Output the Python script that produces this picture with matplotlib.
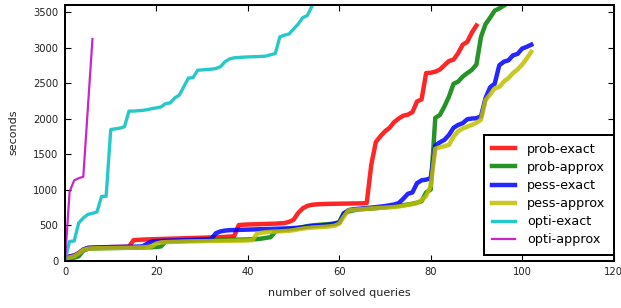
import matplotlib
matplotlib.use("Agg")
import matplotlib.pyplot as plt

# cumulative solve time per number of solved queries
prob_exact = [30, 60, 70, 105, 155, 178, 182, 184, 186, 188, 190, 191, 192, 194, 196,
              288, 292, 295, 298, 300, 302, 304, 306, 308, 310, 312, 314, 316, 318, 320,
              322, 324, 326, 328, 330, 334, 338, 342, 500, 505, 508, 510, 512, 514, 516,
              518, 520, 524, 528, 545, 575, 670, 735, 770, 785, 792, 795, 797, 799, 800,
              801, 802, 803, 804, 805, 806, 810, 1350, 1670, 1750, 1820, 1870, 1950, 2000,
              2040, 2055, 2090, 2240, 2270, 2640, 2645, 2660, 2690, 2750, 2810, 2830, 2920,
              3040, 3080, 3210, 3310]
prob_approx = [10, 30, 40, 60, 140, 165, 170, 172, 174, 175, 176, 177, 178, 179, 180,
               181, 182, 184, 186, 188, 192, 200, 265, 270, 272, 274, 276, 278, 280, 282,
               284, 286, 288, 289, 290, 292, 293, 294, 295, 296, 298, 300, 302, 310, 320,
               330, 410, 425, 432, 440, 448, 458, 470, 485, 495, 500, 505, 510, 515, 525,
               540, 670, 690, 705, 718, 724, 728, 732, 738, 744, 750, 758, 765, 772, 780,
               790, 800, 815, 835, 960, 1000, 2010, 2050, 2170, 2310, 2490, 2520, 2590,
               2640, 2685, 2760, 3150, 3330, 3420, 3520, 3550, 3590, 3630]
pess_exact = [35, 55, 70, 105, 155, 178, 182, 184, 186, 188, 190, 191, 192, 193, 194,
              195, 197, 200, 240, 268, 275, 278, 280, 282, 284, 286, 288, 290, 292, 294,
              296, 298, 305, 385, 410, 422, 428, 430, 432, 434, 436, 438, 440, 442, 444,
              446, 448, 450, 452, 454, 458, 462, 470, 478, 485, 490, 495, 500, 508, 518,
              535, 660, 710, 722, 728, 734, 740, 746, 752, 760, 768, 778, 790, 810, 870,
              940, 960, 1090, 1130, 1140, 1160, 1620, 1665, 1700, 1770, 1870, 1910, 1935,
              1990, 2000, 2005, 2030, 2290, 2440, 2490, 2750, 2800, 2820, 2890, 2910, 2985,
              3010, 3040]
pess_approx = [30, 45, 60, 100, 150, 168, 172, 174, 175, 176, 177, 178, 179, 180, 181,
               182, 184, 186, 190, 200, 240, 255, 260, 262, 264, 266, 268, 270, 271, 272,
               273, 274, 275, 276, 277, 278, 279, 280, 281, 282, 284, 288, 380, 392, 400,
               404, 408, 412, 416, 420, 428, 440, 450, 458, 464, 468, 472, 476, 482, 492,
               520, 620, 705, 715, 720, 725, 730, 734, 738, 742, 746, 750, 755, 762, 772,
               785, 795, 810, 850, 910, 1050, 1575, 1595, 1610, 1630, 1745, 1820, 1860,
               1885, 1910, 1940, 1985, 2260, 2340, 2425, 2445, 2520, 2570, 2640, 2690, 2760,
               2845, 2940]
opti_exact = [0, 270, 275, 530, 600, 650, 665, 685, 905, 905, 1845, 1855, 1865, 1885,
              2105, 2105, 2110, 2115, 2125, 2140, 2150, 2165, 2210, 2220, 2290, 2330, 2450,
              2570, 2575, 2680, 2685, 2690, 2695, 2705, 2730, 2800, 2840, 2855, 2860, 2865,
              2868, 2870, 2872, 2875, 2880, 2900, 2915, 3150, 3175, 3190, 3260, 3330, 3420,
              3450, 3580, 3750]
opti_approx = [0, 970, 1130, 1160, 1180, 2150, 3120]

series = [
    ("prob-exact", prob_exact, "r", 4),
    ("prob-approx", prob_approx, "g", 4),
    ("pess-exact", pess_exact, "b", 4),
    ("pess-approx", pess_approx, "y", 4),
    ("opti-exact", opti_exact, "c", 3),
    ("opti-approx", opti_approx, "m", 2),
]
colors = {"r": "#ff0000", "g": "#008000", "b": "#0000ff",
          "y": "#bfbf00", "c": "#00bfbf", "m": "#bf00bf"}

fig = plt.figure(figsize=(621 / 80, 308 / 80), dpi=80)
ax = fig.add_axes([0.1047, 0.154, 0.8833, 0.83])

for name, ys, c, lw in series:
    ax.plot(range(len(ys)), ys, color=colors[c], lw=lw, alpha=0.85, label=name)

ax.set_xlim(0, 120)
ax.set_ylim(0, 3600)
ax.set_xticks(range(0, 121, 20))
ax.set_yticks(range(0, 3501, 500))
ax.tick_params(direction="in", top=True, right=True, length=5, width=1,
               labelsize=9, labelcolor="#222222", pad=6)
for s in ax.spines.values():
    s.set_linewidth(1.8)
ax.set_xlabel("number of solved queries", fontsize=10, color="#222222", labelpad=10)
ax.set_ylabel("seconds", fontsize=10, color="#222222", labelpad=13)

leg = ax.legend(loc="lower right", bbox_to_anchor=(1.0, 0.023), borderaxespad=0,
                fontsize=11.5, handlelength=1.8, handletextpad=0.9, borderpad=0.65,
                labelspacing=0.4, fancybox=False, framealpha=1)
leg.get_frame().set_edgecolor("black")
leg.get_frame().set_linewidth(1.8)

fig.savefig("out.png", dpi=80)
